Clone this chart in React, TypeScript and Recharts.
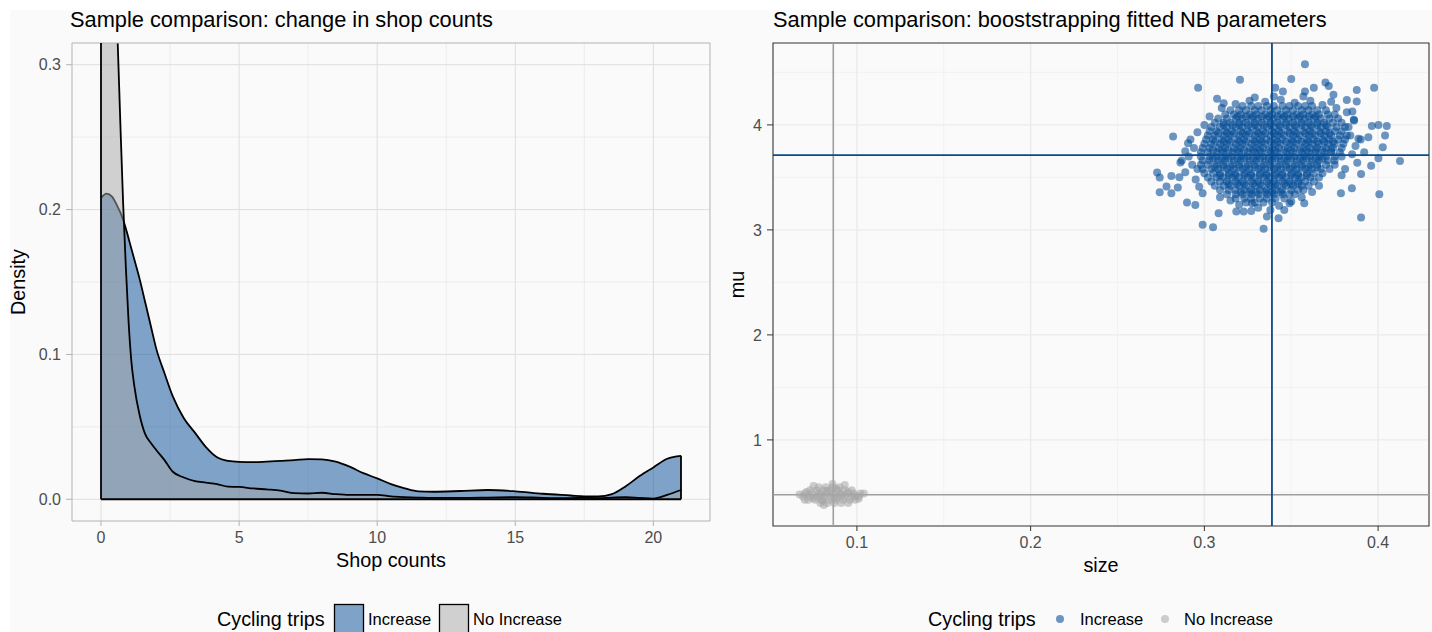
import React from 'react';
import {
  ComposedChart,
  Area,
  XAxis,
  YAxis,
  CartesianGrid,
  ReferenceLine,
  ReferenceArea,
  ScatterChart,
  Scatter,
} from 'recharts';

const FONT = '"Liberation Sans", Arial, Helvetica, sans-serif';

// ---------- Left panel: density of shop counts ----------
const shopX = [0, 0.2, 0.4, 0.6, 0.7, 0.8, 0.9, 1.0, 1.1, 1.2, 1.4, 1.6, 1.8, 2.0, 2.3, 2.6, 3.0, 3.4, 3.8, 4.2, 4.6, 5, 5.5, 6, 6.5, 7, 7.5, 8, 8.5, 9, 9.5, 10, 10.5, 11, 11.5, 12, 13, 14, 15, 16, 17, 17.5, 18, 18.5, 19, 19.5, 20, 20.5, 21];
const incDensity = [0.208, 0.211, 0.209, 0.202, 0.198, 0.193, 0.187, 0.180, 0.173, 0.166, 0.152, 0.136, 0.120, 0.104, 0.087, 0.071, 0.056, 0.046, 0.036, 0.029, 0.0265, 0.0258, 0.0256, 0.026, 0.0265, 0.027, 0.0277, 0.0276, 0.026, 0.0225, 0.018, 0.0144, 0.0105, 0.0076, 0.0055, 0.0052, 0.0057, 0.0064, 0.0055, 0.0038, 0.0026, 0.002, 0.0019, 0.0035, 0.009, 0.016, 0.022, 0.028, 0.030];
const noIncDensity = [0.62, 0.52, 0.41, 0.318, 0.26, 0.205, 0.16, 0.122, 0.095, 0.079, 0.058, 0.045, 0.039, 0.034, 0.027, 0.019, 0.015, 0.0125, 0.0115, 0.0105, 0.0087, 0.0085, 0.0075, 0.0068, 0.006, 0.0042, 0.004, 0.0045, 0.0035, 0.003, 0.003, 0.003, 0.002, 0.0015, 0.0012, 0.001, 0.001, 0.0012, 0.0015, 0.001, 0.0008, 0.001, 0.0008, 0.0012, 0.0015, 0.001, 0.0005, 0.003, 0.0064];
const shopTicks = [0, 5, 10, 15, 20];
const shopMinorTicks = [2.5, 7.5, 12.5, 17.5];
const densityTicks = [0, 0.1, 0.2, 0.3];
const densityMinorTicks = [0.05, 0.15, 0.25];
const shopDomain: [number, number] = [-1.05, 22.05];
const densityDomain: [number, number] = [-0.015, 0.315];

// ---------- Right panel: bootstrapped NB parameters ----------
const sizeTicks = [0.1, 0.2, 0.3, 0.4];
const sizeMinorTicks = [0.15, 0.25, 0.35];
const muTicks = [1, 2, 3, 4];
const muMinorTicks = [0.5, 1.5, 2.5, 3.5, 4.5];
const sizeDomain: [number, number] = [0.0517, 0.4293];
const muDomain: [number, number] = [0.18, 4.78];

const incCenter = { size: 0.3389, mu: 3.712 };
const noIncCenter = { size: 0.0864, mu: 0.478 };

const incOutliers: [number, number][] = [
  [0.3579, 4.578], [0.3205, 4.429], [0.2964, 4.355], [0.350, 4.438], [0.3977, 4.355], [0.3877, 4.333],
  [0.3697, 4.403], [0.3716, 4.371], [0.3408, 4.355], [0.3452, 4.317], [0.3579, 4.317], [0.363, 4.355],
  [0.3073, 4.25], [0.3111, 4.207], [0.282, 3.889], [0.2906, 3.826], [0.2862, 3.641], [0.2728, 3.546],
  [0.2743, 3.498], [0.281, 3.514], [0.2856, 3.502], [0.2782, 3.413], [0.2743, 3.359], [0.2847, 3.403],
  [0.281, 3.349], [0.29, 3.26], [0.2948, 3.238], [0.299, 3.048], [0.305, 3.026], [0.3341, 3.01],
  [0.336, 3.127], [0.3427, 3.111], [0.3902, 3.117], [0.4007, 3.34], [0.4126, 3.657], [0.405, 3.99],
  [0.4002, 4.0], [0.3964, 3.99], [0.404, 3.898], [0.4027, 3.787], [0.4002, 3.683], [0.3944, 3.883],
  [0.3887, 3.867], [0.396, 3.61], [0.3902, 3.533], [0.3849, 3.397], [0.3786, 3.349], [0.3575, 3.254],
  [0.349, 3.254], [0.3184, 3.175], [0.3226, 3.175], [0.3082, 3.159], [0.3274, 3.254], [0.3877, 4.222],
  [0.382, 4.238], [0.3743, 4.286], [0.3852, 4.127], [0.3862, 4.041],
];

const incRing: [number, number][] = [
  [0.293, 3.62], [0.291, 3.70], [0.294, 3.78], [0.289, 3.55], [0.295, 3.48], [0.292, 3.86], [0.296, 3.93],
  [0.287, 3.66], [0.297, 3.41], [0.299, 3.35], [0.300, 4.00], [0.303, 4.08], [0.296, 3.58], [0.289, 3.75],
  [0.385, 3.72], [0.387, 3.80], [0.384, 3.90], [0.388, 3.64], [0.383, 3.98], [0.386, 4.05], [0.381, 3.58],
  [0.390, 3.86], [0.379, 3.52], [0.382, 4.12], [0.392, 3.74], [0.376, 4.16],
  [0.318, 4.20], [0.326, 4.23], [0.335, 4.22], [0.344, 4.24], [0.352, 4.21], [0.361, 4.23], [0.368, 4.19],
  [0.340, 4.27], [0.329, 4.26], [0.357, 4.27], [0.373, 4.22], [0.310, 4.16],
  [0.315, 3.28], [0.320, 3.24], [0.331, 3.21], [0.343, 3.23], [0.350, 3.27], [0.356, 3.31], [0.362, 3.36],
  [0.327, 3.18], [0.338, 3.19], [0.309, 3.31], [0.346, 3.19], [0.366, 3.42],
];

const incCoreRows: { mu: number; sizes: number[] }[] = [
  { mu: 4.18, sizes: [0.322, 0.327, 0.331, 0.336, 0.340, 0.345, 0.349, 0.354, 0.358, 0.362] },
  { mu: 4.14, sizes: [0.315, 0.320, 0.324, 0.329, 0.333, 0.338, 0.342, 0.347, 0.351, 0.356, 0.360, 0.365, 0.370] },
  { mu: 4.10, sizes: [0.312, 0.317, 0.321, 0.326, 0.330, 0.335, 0.339, 0.344, 0.348, 0.353, 0.357, 0.362, 0.366, 0.371, 0.375] },
  { mu: 4.06, sizes: [0.308, 0.313, 0.318, 0.322, 0.327, 0.331, 0.336, 0.340, 0.345, 0.349, 0.354, 0.358, 0.363, 0.367, 0.372, 0.377] },
  { mu: 4.02, sizes: [0.306, 0.311, 0.315, 0.320, 0.324, 0.329, 0.333, 0.338, 0.342, 0.347, 0.351, 0.356, 0.360, 0.365, 0.369, 0.374, 0.379] },
  { mu: 3.98, sizes: [0.304, 0.309, 0.313, 0.318, 0.322, 0.327, 0.331, 0.336, 0.340, 0.344, 0.349, 0.353, 0.358, 0.362, 0.367, 0.371, 0.376, 0.381] },
  { mu: 3.94, sizes: [0.303, 0.307, 0.312, 0.316, 0.321, 0.325, 0.330, 0.334, 0.339, 0.343, 0.348, 0.352, 0.357, 0.361, 0.366, 0.370, 0.375, 0.379] },
  { mu: 3.90, sizes: [0.302, 0.306, 0.311, 0.315, 0.320, 0.324, 0.329, 0.333, 0.338, 0.342, 0.346, 0.351, 0.355, 0.360, 0.364, 0.369, 0.373, 0.378, 0.382] },
  { mu: 3.86, sizes: [0.301, 0.305, 0.310, 0.314, 0.319, 0.323, 0.328, 0.332, 0.336, 0.341, 0.345, 0.350, 0.354, 0.359, 0.363, 0.368, 0.372, 0.377, 0.381] },
  { mu: 3.82, sizes: [0.300, 0.304, 0.309, 0.313, 0.318, 0.322, 0.327, 0.331, 0.335, 0.340, 0.344, 0.349, 0.353, 0.358, 0.362, 0.366, 0.371, 0.375, 0.380] },
  { mu: 3.78, sizes: [0.299, 0.303, 0.308, 0.312, 0.317, 0.321, 0.326, 0.330, 0.334, 0.339, 0.343, 0.348, 0.352, 0.357, 0.361, 0.365, 0.370, 0.374, 0.379] },
  { mu: 3.74, sizes: [0.298, 0.302, 0.307, 0.311, 0.316, 0.320, 0.325, 0.329, 0.333, 0.338, 0.342, 0.347, 0.351, 0.356, 0.360, 0.364, 0.369, 0.373, 0.378] },
  { mu: 3.70, sizes: [0.298, 0.303, 0.307, 0.312, 0.316, 0.321, 0.325, 0.330, 0.334, 0.339, 0.343, 0.348, 0.352, 0.357, 0.361, 0.366, 0.370, 0.375, 0.379] },
  { mu: 3.66, sizes: [0.299, 0.303, 0.308, 0.312, 0.317, 0.321, 0.326, 0.330, 0.335, 0.339, 0.344, 0.348, 0.353, 0.357, 0.362, 0.366, 0.371, 0.375] },
  { mu: 3.62, sizes: [0.298, 0.302, 0.307, 0.311, 0.316, 0.320, 0.325, 0.329, 0.334, 0.338, 0.343, 0.347, 0.352, 0.356, 0.361, 0.365, 0.370, 0.375] },
  { mu: 3.58, sizes: [0.299, 0.304, 0.308, 0.313, 0.317, 0.322, 0.326, 0.331, 0.335, 0.340, 0.344, 0.349, 0.353, 0.358, 0.362, 0.367, 0.372] },
  { mu: 3.54, sizes: [0.300, 0.305, 0.309, 0.314, 0.318, 0.323, 0.327, 0.332, 0.336, 0.341, 0.345, 0.350, 0.354, 0.359, 0.363, 0.368] },
  { mu: 3.50, sizes: [0.302, 0.307, 0.311, 0.316, 0.320, 0.325, 0.329, 0.334, 0.338, 0.343, 0.347, 0.352, 0.356, 0.361, 0.366] },
  { mu: 3.46, sizes: [0.304, 0.309, 0.313, 0.318, 0.322, 0.327, 0.331, 0.336, 0.340, 0.345, 0.349, 0.354, 0.358, 0.363] },
  { mu: 3.42, sizes: [0.306, 0.311, 0.315, 0.320, 0.324, 0.329, 0.333, 0.338, 0.342, 0.347, 0.351, 0.356, 0.360] },
  { mu: 3.38, sizes: [0.309, 0.314, 0.318, 0.323, 0.327, 0.332, 0.336, 0.341, 0.345, 0.350, 0.354, 0.357] },
  { mu: 3.34, sizes: [0.313, 0.318, 0.322, 0.327, 0.331, 0.336, 0.340, 0.345, 0.349, 0.352] },
  { mu: 3.30, sizes: [0.318, 0.323, 0.327, 0.332, 0.336, 0.341, 0.346] },
  { mu: 3.26, sizes: [0.324, 0.329, 0.334, 0.339] },
];

// densest inner part of the Increase cloud (between the rows above)
const incInnerRows: { mu: number; sizes: number[] }[] = [
  { mu: 4.08, sizes: [0.319, 0.324, 0.328, 0.333, 0.337, 0.342, 0.346, 0.351, 0.355, 0.360, 0.364] },
  { mu: 4.00, sizes: [0.311, 0.316, 0.320, 0.325, 0.329, 0.334, 0.338, 0.343, 0.347, 0.352, 0.356, 0.361, 0.365, 0.370] },
  { mu: 3.92, sizes: [0.308, 0.313, 0.317, 0.322, 0.326, 0.331, 0.335, 0.340, 0.344, 0.349, 0.353, 0.358, 0.362, 0.367, 0.372] },
  { mu: 3.84, sizes: [0.306, 0.311, 0.315, 0.320, 0.324, 0.329, 0.333, 0.338, 0.342, 0.347, 0.351, 0.356, 0.360, 0.365, 0.369, 0.374] },
  { mu: 3.76, sizes: [0.305, 0.310, 0.314, 0.319, 0.323, 0.328, 0.332, 0.337, 0.341, 0.346, 0.350, 0.355, 0.359, 0.364, 0.368, 0.373] },
  { mu: 3.68, sizes: [0.305, 0.310, 0.314, 0.319, 0.323, 0.328, 0.332, 0.337, 0.341, 0.346, 0.350, 0.355, 0.359, 0.364, 0.368] },
  { mu: 3.60, sizes: [0.306, 0.311, 0.315, 0.320, 0.324, 0.329, 0.333, 0.338, 0.342, 0.347, 0.351, 0.356, 0.360, 0.365] },
  { mu: 3.52, sizes: [0.309, 0.314, 0.318, 0.323, 0.327, 0.332, 0.336, 0.341, 0.345, 0.350, 0.354, 0.359] },
  { mu: 3.44, sizes: [0.314, 0.319, 0.323, 0.328, 0.332, 0.337, 0.341, 0.346, 0.350, 0.354] },
  { mu: 3.36, sizes: [0.321, 0.326, 0.330, 0.335, 0.339, 0.344] },
];

const noIncRows: { mu: number; sizes: number[] }[] = [
  { mu: 0.40, sizes: [0.079, 0.083, 0.087, 0.091] },
  { mu: 0.43, sizes: [0.072, 0.076, 0.080, 0.084, 0.088, 0.092, 0.096, 0.099] },
  { mu: 0.46, sizes: [0.069, 0.073, 0.077, 0.081, 0.085, 0.089, 0.093, 0.097, 0.101] },
  { mu: 0.49, sizes: [0.070, 0.074, 0.078, 0.082, 0.086, 0.090, 0.094, 0.098, 0.102] },
  { mu: 0.52, sizes: [0.073, 0.077, 0.081, 0.085, 0.089, 0.093, 0.097] },
  { mu: 0.55, sizes: [0.078, 0.082, 0.086, 0.090] },
];
const noIncEdge: [number, number][] = [
  [0.067, 0.48], [0.104, 0.49], [0.086, 0.58], [0.081, 0.38], [0.095, 0.40], [0.075, 0.56], [0.093, 0.57],
  [0.070, 0.43], [0.101, 0.44], [0.079, 0.475], [0.087, 0.445], [0.095, 0.505], [0.083, 0.515],
  [0.075, 0.445], [0.091, 0.475], [0.099, 0.465], [0.071, 0.505], [0.088, 0.535], [0.080, 0.42],
];

const densityTable = shopX.map((x, i) => ({ x, inc: incDensity[i], noInc: noIncDensity[i] }));

const toPoints = (pairs: [number, number][]) => pairs.map(([size, mu]) => ({ size, mu }));
const fromRows = (rows: { mu: number; sizes: number[] }[]) =>
  rows.flatMap((r) => r.sizes.map((size) => ({ size, mu: r.mu })));
const incPoints = [...toPoints(incOutliers), ...toPoints(incRing), ...fromRows(incCoreRows), ...fromRows(incInnerRows)];
const noIncPoints = [...fromRows(noIncRows), ...toPoints(noIncEdge)];

const BLUE = '#034C96';
const GREY = '#A6A6A6';

const makeDot = (fill: string, opacity: number) => (p: any) =>
  p.cx == null || p.cy == null ? <g /> : <circle cx={p.cx} cy={p.cy} r={4} fill={fill} fillOpacity={opacity} />;

const tickStyle = { fill: '#4D4D4D', fontSize: 16, fontFamily: FONT };

function DensityChart() {
  const lastX = shopX[shopX.length - 1];
  const lastInc = incDensity[incDensity.length - 1];
  return (
    <ComposedChart width={720} height={632} data={densityTable} margin={{ top: 43, right: 10, bottom: 61, left: 0 }}>
      <CartesianGrid stroke="#E8E8E8" strokeWidth={0.8} verticalValues={shopMinorTicks} horizontalValues={densityMinorTicks} />
      <CartesianGrid stroke="#DEDEDE" strokeWidth={1} verticalValues={shopTicks} horizontalValues={densityTicks} />
      <XAxis
        dataKey="x"
        type="number"
        domain={shopDomain}
        allowDataOverflow
        ticks={shopTicks}
        interval={0}
        axisLine={false}
        tickLine={{ stroke: '#B3B3B3' }}
        tickSize={5}
        tickMargin={6}
        height={50}
        tick={tickStyle}
      />
      <YAxis
        type="number"
        domain={densityDomain}
        allowDataOverflow
        ticks={densityTicks}
        interval={0}
        tickFormatter={(v: number) => v.toFixed(1)}
        axisLine={false}
        tickLine={{ stroke: '#B3B3B3' }}
        tickSize={6}
        tickMargin={5}
        width={72}
        tick={tickStyle}
      />
      <Area type="monotone" dataKey="inc" baseValue={0} fill={BLUE} fillOpacity={0.5} stroke="#000" strokeWidth={1.8} dot={false} activeDot={false} isAnimationActive={false} />
      <Area type="monotone" dataKey="noInc" baseValue={0} fill={GREY} fillOpacity={0.5} stroke="#000" strokeWidth={1.8} dot={false} activeDot={false} isAnimationActive={false} />
      <ReferenceLine segment={[{ x: 0, y: 0 }, { x: lastX, y: 0 }]} stroke="#000" strokeWidth={1.8} />
      <ReferenceLine segment={[{ x: 0, y: 0 }, { x: 0, y: densityDomain[1] }]} stroke="#000" strokeWidth={1.8} />
      <ReferenceLine segment={[{ x: lastX, y: 0 }, { x: lastX, y: lastInc }]} stroke="#000" strokeWidth={1.8} />
      <ReferenceArea x1={shopDomain[0]} x2={shopDomain[1]} y1={densityDomain[0]} y2={densityDomain[1]} fill="none" fillOpacity={0} stroke="#B3B3B3" strokeWidth={1} />
    </ComposedChart>
  );
}

function ParamChart() {
  return (
    <ScatterChart width={712} height={632} margin={{ top: 43, right: 3, bottom: 56, left: 0 }}>
      <CartesianGrid stroke="#F0F0F0" strokeWidth={0.8} verticalValues={sizeMinorTicks} horizontalValues={muMinorTicks} />
      <CartesianGrid stroke="#EBEBEB" strokeWidth={1.4} verticalValues={sizeTicks} horizontalValues={muTicks} />
      <XAxis
        dataKey="size"
        type="number"
        domain={sizeDomain}
        allowDataOverflow
        ticks={sizeTicks}
        interval={0}
        tickFormatter={(v: number) => v.toFixed(1)}
        axisLine={false}
        tickLine={{ stroke: '#333333' }}
        tickSize={5}
        tickMargin={6}
        height={50}
        tick={tickStyle}
      />
      <YAxis
        dataKey="mu"
        type="number"
        domain={muDomain}
        allowDataOverflow
        ticks={muTicks}
        interval={0}
        axisLine={false}
        tickLine={{ stroke: '#333333' }}
        tickSize={6}
        tickMargin={5}
        width={53}
        tick={tickStyle}
      />
      <Scatter data={noIncPoints} shape={makeDot(GREY, 0.55)} isAnimationActive={false} />
      <Scatter data={incPoints} shape={makeDot(BLUE, 0.58)} isAnimationActive={false} />
      <ReferenceLine x={noIncCenter.size} stroke="#9E9E9E" strokeWidth={1.6} />
      <ReferenceLine y={noIncCenter.mu} stroke="#9E9E9E" strokeWidth={1.6} />
      <ReferenceLine x={incCenter.size} stroke="#0B4A8E" strokeWidth={1.8} />
      <ReferenceLine y={incCenter.mu} stroke="#0B4A8E" strokeWidth={1.8} />
      <ReferenceArea x1={sizeDomain[0]} x2={sizeDomain[1]} y1={muDomain[0]} y2={muDomain[1]} fill="none" fillOpacity={0} stroke="#333333" strokeWidth={1.1} />
    </ScatterChart>
  );
}

function Overlay() {
  return (
    <svg width={1432} height={632} style={{ position: 'absolute', left: 0, top: 0, pointerEvents: 'none' }} fontFamily={FONT}>
      <text x={70} y={27} fontSize={21.8} fill="#000">Sample comparison: change in shop counts</text>
      <text x={773} y={27} fontSize={21.8} fill="#000">Sample comparison: booststrapping fitted NB parameters</text>
      <text x={391} y={567} fontSize={19.8} textAnchor="middle" fill="#000">Shop counts</text>
      <text x={1101} y={572} fontSize={19.8} textAnchor="middle" fill="#000">size</text>
      <text transform="translate(25,282) rotate(-90)" fontSize={19.8} textAnchor="middle" fill="#000">Density</text>
      <text transform="translate(744,284.5) rotate(-90)" fontSize={19.8} textAnchor="middle" fill="#000">mu</text>

      <text x={217} y={626} fontSize={19.8} fill="#000">Cycling trips</text>
      <rect x={334.5} y={604.5} width={29} height={29} fill={BLUE} fillOpacity={0.5} stroke="#000" strokeWidth={1.3} />
      <text x={368} y={625} fontSize={16.5} fill="#000">Increase</text>
      <rect x={439.5} y={604.5} width={29} height={29} fill={GREY} fillOpacity={0.5} stroke="#000" strokeWidth={1.3} />
      <text x={473} y={625} fontSize={16.5} fill="#000">No Increase</text>

      <text x={928} y={626} fontSize={19.8} fill="#000">Cycling trips</text>
      <circle cx={1060} cy={619} r={4} fill={BLUE} fillOpacity={0.58} />
      <text x={1080} y={625} fontSize={16.5} fill="#000">Increase</text>
      <circle cx={1165} cy={619} r={4} fill={GREY} fillOpacity={0.55} />
      <text x={1184} y={625} fontSize={16.5} fill="#000">No Increase</text>
    </svg>
  );
}

export default function App() {
  return (
    <div style={{ position: 'absolute', left: 0, top: 0, width: 1432, height: 632, background: '#FFFFFF', overflow: 'hidden' }}>
      <div style={{ position: 'absolute', left: 10, top: 10, width: 1422, height: 622, background: '#FAFAFA' }} />
      <div style={{ position: 'absolute', left: 0, top: 0 }}>
        <DensityChart />
      </div>
      <div style={{ position: 'absolute', left: 720, top: 0 }}>
        <ParamChart />
      </div>
      <Overlay />
    </div>
  );
}
